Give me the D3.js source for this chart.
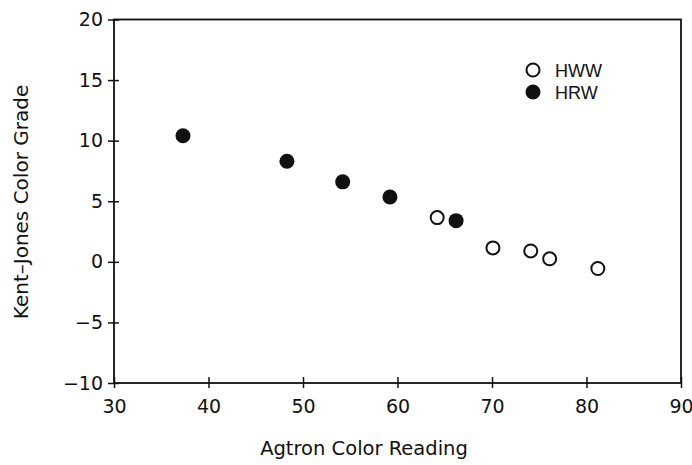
<!DOCTYPE html>
<html>
<head>
<meta charset="utf-8">
<script src="https://cdn.jsdelivr.net/npm/d3@7"></script>
<style>
  body { margin: 0; background: #fff; }
  text { font-family: "DejaVu Sans", sans-serif; fill: #111; }
</style>
</head>
<body>
<div id="chart"></div>
<script>
// data
var hwwAgtron = [64.2, 70.1, 74.1, 76.1, 81.2];
var hwwKJ     = [3.65, 1.15, 0.9, 0.25, -0.55];
var hrwAgtron = [37.3, 48.3, 54.2, 59.2, 66.2];
var hrwKJ     = [10.4, 8.3, 6.6, 5.35, 3.4];

var xTicks = [30, 40, 50, 60, 70, 80, 90];
var yTicks = [-10, -5, 0, 5, 10, 15, 20];

var margin = {top: 19.5, right: 11, bottom: 82, left: 114},
    width = 692 - margin.left - margin.right,
    height = 465 - margin.top - margin.bottom;

var svg = d3.select("#chart").append("svg")
    .attr("width", 692)
    .attr("height", 465)
  .append("g")
    .attr("transform", "translate(" + margin.left + "," + margin.top + ")");

var x = d3.scaleLinear().domain([30, 90]).range([0, width]);
var y = d3.scaleLinear().domain([-10, 20]).range([height, 0]);

var fmt = function(d) { return d < 0 ? "\u2212" + Math.abs(d) : d; };

// box
svg.append("rect")
    .attr("width", width)
    .attr("height", height)
    .attr("fill", "none")
    .attr("stroke", "#111")
    .attr("stroke-width", 1.8);

// x axis: ticks cross the line
var xa = svg.append("g")
    .attr("transform", "translate(0," + height + ")")
    .call(d3.axisBottom(x).tickValues(xTicks).tickSize(5).tickPadding(12).tickFormat(fmt));
xa.select(".domain").remove();
xa.selectAll(".tick line").attr("y1", -6).attr("stroke", "#111").attr("stroke-width", 1.5);
xa.selectAll(".tick text").style("font-size", "19px").style("font-family", "DejaVu Sans");

// y axis
var ya = svg.append("g")
    .call(d3.axisLeft(y).tickValues(yTicks).tickSize(6).tickPadding(5).tickFormat(fmt));
ya.select(".domain").remove();
ya.selectAll(".tick line").attr("x1", 5).attr("stroke", "#111").attr("stroke-width", 1.5);
ya.selectAll(".tick text").style("font-size", "19px").style("font-family", "DejaVu Sans");

// axis titles
svg.append("text")
    .attr("x", 364 - margin.left)
    .attr("y", 455 - margin.top)
    .attr("text-anchor", "middle")
    .style("font-size", "19.5px")
    .text("Agtron Color Reading");

svg.append("text")
    .attr("transform", "translate(" + (28 - margin.left) + "," + (202 - margin.top) + ") rotate(-90)")
    .attr("text-anchor", "middle")
    .style("font-size", "20px")
    .text("Kent\u2013Jones Color Grade");

// points
svg.selectAll(".hww")
    .data(hwwAgtron)
  .enter().append("circle")
    .attr("class", "hww")
    .attr("r", 6.5)
    .attr("cx", function(d) { return x(d); })
    .attr("cy", function(d, i) { return y(hwwKJ[i]); })
    .attr("fill", "#fff")
    .attr("stroke", "#111")
    .attr("stroke-width", 2);

svg.selectAll(".hrw")
    .data(hrwAgtron)
  .enter().append("circle")
    .attr("class", "hrw")
    .attr("r", 7.5)
    .attr("cx", function(d) { return x(d); })
    .attr("cy", function(d, i) { return y(hrwKJ[i]); })
    .attr("fill", "#111");

// legend
var legend = svg.append("g")
    .attr("transform", "translate(" + (533 - margin.left) + "," + (70 - margin.top) + ")");
legend.append("circle").attr("r", 6.5).attr("fill", "#fff").attr("stroke", "#111").attr("stroke-width", 2);
legend.append("circle").attr("cy", 22).attr("r", 7.5).attr("fill", "#111");
legend.append("text").attr("x", 22).attr("y", 6.5)
    .style("font-family", "Liberation Sans, Arial, sans-serif").style("font-size", "18px").text("HWW");
legend.append("text").attr("x", 22).attr("y", 28.5)
    .style("font-family", "Liberation Sans, Arial, sans-serif").style("font-size", "18px").text("HRW");
</script>
</body>
</html>
